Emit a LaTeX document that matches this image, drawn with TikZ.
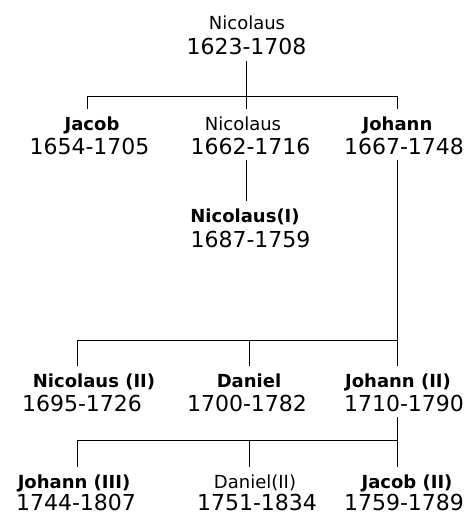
\documentclass[tikz,border=0pt]{standalone}
\usepackage{fontspec}
\setmainfont{DejaVu Sans}
\begin{document}
\begin{tikzpicture}[x=1pt,y=-1pt,
  pname/.style={anchor=base,inner sep=0pt,outer sep=7pt,font=\fontsize{18}{20}\selectfont},
  bname/.style={pname,font=\fontsize{18}{20}\selectfont\bfseries},
  pdate/.style={anchor=base,inner sep=0pt,outer sep=6pt,font=\fontsize{22}{24}\selectfont},
  link/.style={line width=1pt}]
\useasboundingbox (0,0) rectangle (467,516);
% row 1
\node[pname] (n0) at (247,30) {Nicolaus};
\node[pdate] (d0) at (246.5,55) {1623-1708};
% row 2
\node[bname] (n1) at (92,130) {Jacob};
\node[pdate] (d1) at (89.5,154) {1654-1705};
\node[pname] (n2) at (243,130) {Nicolaus};
\node[pdate] (d2) at (250.5,154) {1662-1716};
\node[bname] (n3) at (397.5,130) {Johann};
\node[pdate] (d3) at (404,154) {1667-1748};
% Nicolaus (I)
\node[bname] (n4) at (245,222) {Nicolaus(I)};
\node[pdate] (d4) at (250.5,247) {1687-1759};
% row 3
\node[bname] (n5) at (94,387) {Nicolaus (II)};
\node[pdate] (d5) at (82,411) {1695-1726};
\node[bname] (n6) at (249,387) {Daniel};
\node[pdate] (d6) at (247,411) {1700-1782};
\node[bname] (n7) at (398,387) {Johann (II)};
\node[pdate] (d7) at (404,411) {1710-1790};
% row 4
\node[bname] (n8) at (74,488) {Johann (III)};
\node[pdate] (d8) at (76,510) {1744-1807};
\node[pname] (n9) at (255,488) {Daniel(II)};
\node[pdate] (d9) at (257,510) {1751-1834};
\node[bname] (n10) at (407,488) {Jacob (II)};
\node[pdate] (d10) at (404,510) {1759-1789};
% junctions
\coordinate (c1) at (87,97);
\coordinate (j0) at (246,97);
\coordinate (c3) at (397,97);
\coordinate (e1) at (77,340);
\coordinate (e2) at (249,340);
\coordinate (e3) at (397,340);
\coordinate (f1) at (77,440);
\coordinate (f2) at (249,440);
\coordinate (f3) at (397,440);
% connectors
\draw[link] (d0.south -| j0) -- (j0 |- n2.north);
\draw[link] (c1 |- n1.north) -- (c1) -- (c3) -- (c3 |- n3.north);
\draw[link] (d2.south -| j0) -- (j0 |- n4.north);
\draw[link] (d3.south -| e3) -- (e3 |- n7.north);
\draw[link] (e1 |- n5.north) -- (e1) -- (e3);
\draw[link] (e2) -- (e2 |- n6.north);
\draw[link] (d7.south -| f3) -- (f3 |- n10.north);
\draw[link] (f1 |- n8.north) -- (f1) -- (f3);
\draw[link] (f2) -- (f2 |- n9.north);
\end{tikzpicture}
\end{document}
